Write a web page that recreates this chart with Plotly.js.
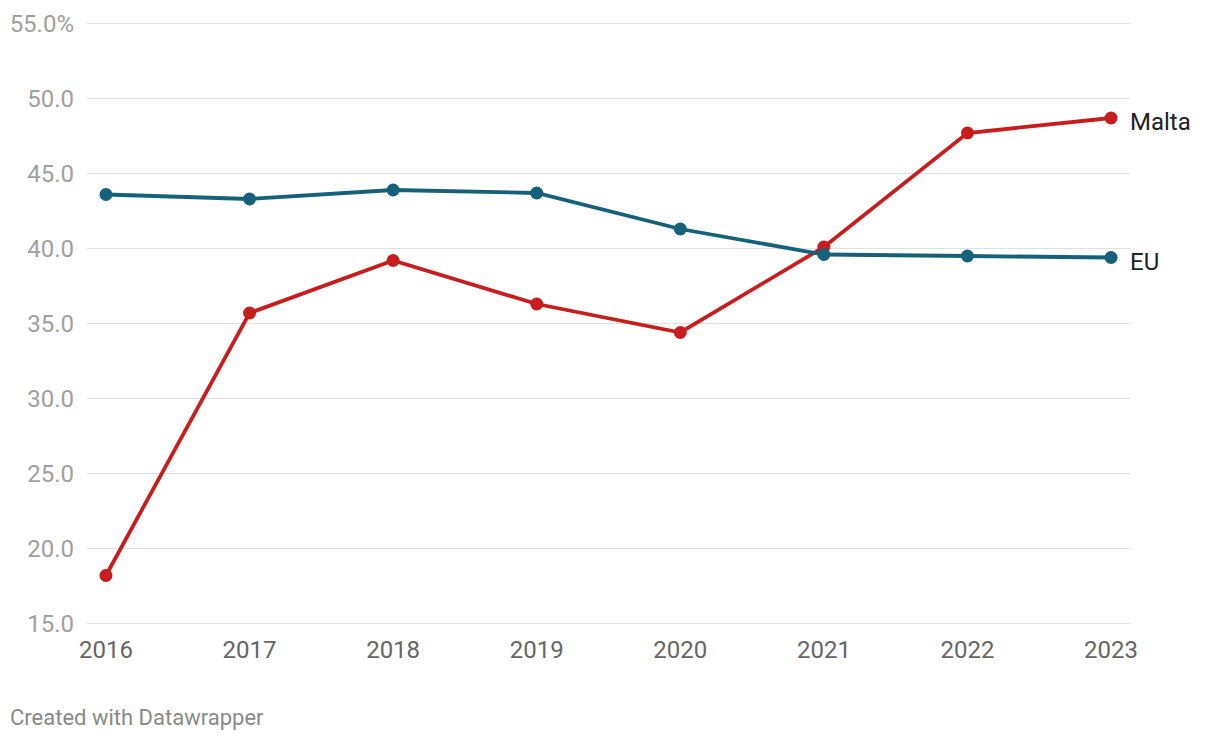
<!DOCTYPE html>
<html>
<head>
<meta charset="utf-8">
<script src="https://cdn.plot.ly/plotly-3.0.1.min.js"></script>
<style>
html,body{margin:0;padding:0;background:#fff;}
#chart{width:1220px;height:740px;}
</style>
</head>
<body>
<div id="chart"></div>
<script>
const years = [2016, 2017, 2018, 2019, 2020, 2021, 2022, 2023];
const malta = [18.2, 35.7, 39.2, 36.3, 34.4, 40.1, 47.7, 48.7];
const eu = [43.6, 43.3, 43.9, 43.7, 41.3, 39.6, 39.5, 39.4];
const yTickVals = [15, 20, 25, 30, 35, 40, 45, 50, 55];
const yTickText = ["15.0", "20.0", "25.0", "30.0", "35.0", "40.0", "45.0", "50.0", "55.0%"];
const seriesNames = ["Malta", "EU"];
const seriesColors = ["#c71e1d", "#15607a"];

const font = "Roboto, 'Noto Sans', sans-serif";
const data = [malta, eu].map((vals, i) => ({
  x: years, y: vals, type: "scatter", mode: "lines+markers",
  name: seriesNames[i],
  line: {color: seriesColors[i], width: 3.8},
  marker: {color: seriesColors[i], size: 13},
  cliponaxis: false, hoverinfo: "x+y"
}));

const annotations = [malta, eu].map((vals, i) => ({
  x: years[years.length - 1], y: vals[vals.length - 1],
  xref: "x", yref: "y", text: seriesNames[i], showarrow: false,
  xanchor: "left", yanchor: "middle", xshift: 17, yshift: -4,
  font: {family: font, size: 24, color: "#222"}
}));
annotations.push({
  xref: "paper", yref: "paper", x: 0, y: 0, xanchor: "left", yanchor: "bottom",
  xshift: -79, yshift: -107,
  text: "Created with Datawrapper", showarrow: false,
  font: {family: font, size: 22, color: "#8a8a8a"}
});

const layout = {
  width: 1220, height: 740,
  margin: {l: 87, r: 90, t: 21.5, b: 114.5},
  paper_bgcolor: "#fff", plot_bgcolor: "#fff",
  showlegend: false,
  font: {family: font},
  xaxis: {
    range: [2015.868, 2023.132],
    tickvals: years, ticktext: years.map(String),
    showgrid: false, zeroline: false, showline: false,
    ticks: "", ticklabelstandoff: 8,
    tickfont: {family: font, size: 24, color: "#666"}
  },
  yaxis: {
    range: [14.9, 55.1],
    tickvals: yTickVals, ticktext: yTickText,
    showgrid: true, gridcolor: "#e0e0e0", gridwidth: 1.8,
    zeroline: false, showline: false,
    ticks: "", ticklabelstandoff: 12,
    tickfont: {family: font, size: 24, color: "#a0a0a0"}
  },
  annotations: annotations
};

Plotly.newPlot("chart", data, layout, {displayModeBar: false, staticPlot: true});
</script>
</body>
</html>
